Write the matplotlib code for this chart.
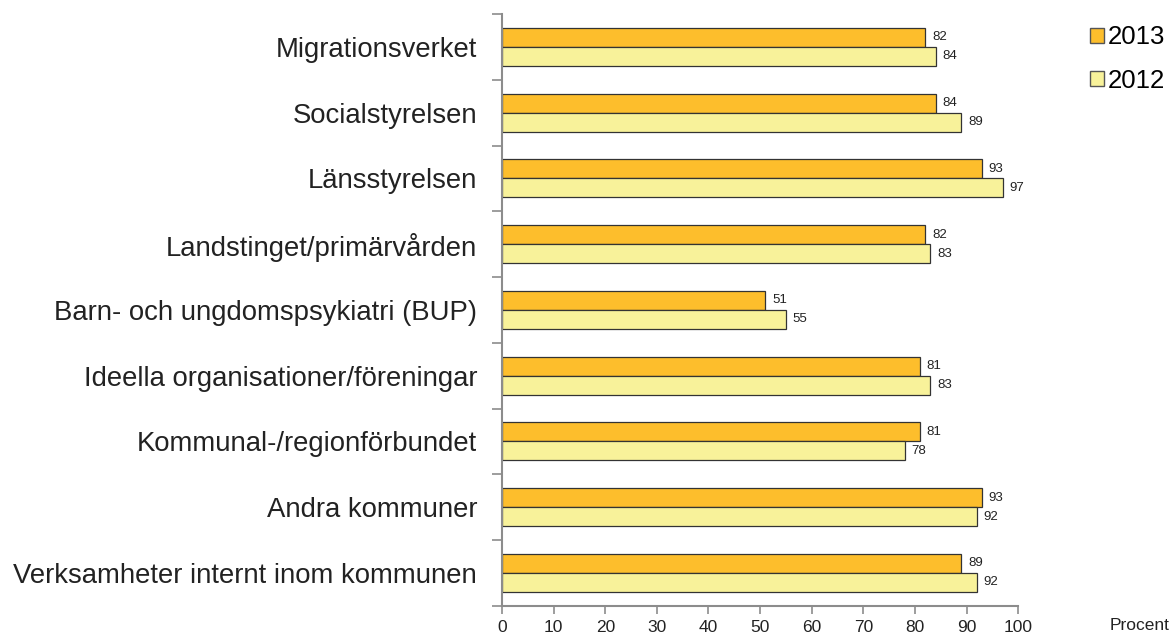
import numpy as np
import matplotlib.pyplot as plt
from matplotlib.patches import Patch

plt.rcParams['font.family'] = ['Liberation Sans', 'DejaVu Sans']

categories = ['Migrationsverket', 'Socialstyrelsen', 'Länsstyrelsen',
              'Landstinget/primärvården', 'Barn- och ungdomspsykiatri (BUP)',
              'Ideella organisationer/föreningar', 'Kommunal-/regionförbundet',
              'Andra kommuner', 'Verksamheter internt inom kommunen']
values_2013 = [82, 84, 93, 82, 51, 81, 81, 93, 89]
values_2012 = [84, 89, 97, 83, 55, 83, 78, 92, 92]
xticks = [0, 10, 20, 30, 40, 50, 60, 70, 80, 90, 100]

color_2013 = '#FDBE2C'
color_2012 = '#F8F29A'
axis_gray = '#8C8C8C'

fig = plt.figure(figsize=(11.73, 6.37), dpi=100)
ax = fig.add_axes([0.428, 0.049, 0.44, 0.929])

n = len(categories)
y = np.arange(n)
h = 0.29

bars13 = ax.barh(y - h / 2, values_2013, height=h, color=color_2013,
                 edgecolor='#333333', linewidth=0.9)
bars12 = ax.barh(y + h / 2, values_2012, height=h, color=color_2012,
                 edgecolor='#333333', linewidth=0.9)

for b, v in zip(bars13, values_2013):
    ax.text(v + 1.3, b.get_y() + b.get_height() / 2, str(v),
            va='center', ha='left', fontsize=9.5, color='#222222')
for b, v in zip(bars12, values_2012):
    ax.text(v + 1.3, b.get_y() + b.get_height() / 2, str(v),
            va='center', ha='left', fontsize=9.5, color='#222222')

ax.set_ylim(n - 0.5, -0.5)
ax.set_xlim(0, 100)

ax.set_yticks(np.arange(-0.5, n, 1.0))
ax.set_yticklabels([])
ax.set_yticks(y, minor=True)
ax.set_yticklabels(categories, minor=True, fontsize=19.8, color='#222222')
ax.tick_params(axis='y', which='minor', length=0, pad=18)
ax.tick_params(axis='y', which='major', length=7, color=axis_gray, width=1.2)

ax.set_xticks(xticks)
ax.set_xticklabels([str(t) for t in xticks], fontsize=12.5, color='#222222')
ax.tick_params(axis='x', length=6, color=axis_gray, width=1.2, pad=4)

for s in ['top', 'right']:
    ax.spines[s].set_visible(False)
for s in ['left', 'bottom']:
    ax.spines[s].set_color(axis_gray)
    ax.spines[s].set_linewidth(1.5)

fig.text(0.997, 0.006, 'Procent', ha='right', va='bottom', fontsize=12.5,
         color='#222222')

handles = [Patch(facecolor=color_2013, edgecolor='#555555', label='2013'),
           Patch(facecolor=color_2012, edgecolor='#555555', label='2012')]
fig.legend(handles=handles, loc='upper left', bbox_to_anchor=(0.929, 0.96),
           frameon=False, fontsize=18.5, handlelength=0.55, handleheight=0.55,
           handletextpad=0.15, labelspacing=0.75, borderaxespad=0,
           borderpad=0)

fig.savefig('out.png', dpi=100)
